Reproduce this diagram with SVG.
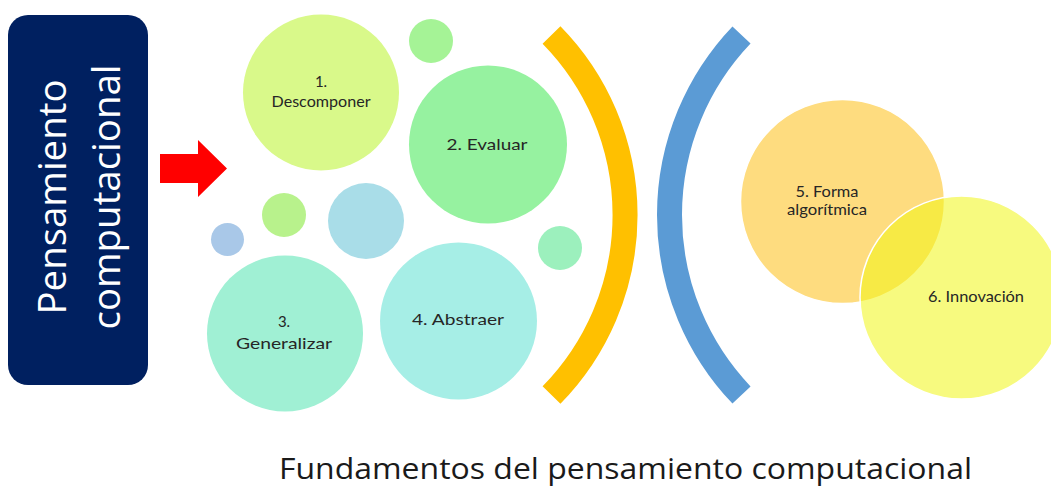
<svg xmlns="http://www.w3.org/2000/svg" width="1051" height="486" viewBox="0 0 1051 486">
<style>
.lbl{font-family:Lato,"Open Sans","Liberation Sans",sans-serif;fill:#262626;text-anchor:middle;font-size:15px}
.side{font-family:"Open Sans","Liberation Sans",sans-serif;fill:#ffffff;text-anchor:middle;font-size:38px}
.title{font-family:"Open Sans","Liberation Sans",sans-serif;fill:#1a1a1a;font-size:29px}
.arc{fill:none;stroke-width:25}
</style>
<rect width="1051" height="486" fill="#ffffff"/>
<g id="box">
<rect x="8" y="15" width="140" height="370" rx="20" ry="20" fill="#002060"/>
<text class="side" transform="translate(66,197) rotate(-90)" textLength="235" lengthAdjust="spacingAndGlyphs">Pensamiento</text>
<text class="side" transform="translate(120,197) rotate(-90)" textLength="265" lengthAdjust="spacingAndGlyphs">computacional</text>
</g>
<g id="connectors">
<polygon points="160,154 198,154 198,140 227,168.5 198,197 198,183 160,183" fill="#ff0000"/>
</g>
<g id="bubbles">
<circle cx="431" cy="41" r="22" fill="#a5f396"/>
<circle cx="284" cy="215" r="22" fill="#b8f28c"/>
<circle cx="366" cy="221" r="38" fill="#a9dde8"/>
<circle cx="227.5" cy="239.5" r="16.5" fill="#a9c8e8"/>
<circle cx="560" cy="248" r="22" fill="#9cf0bd"/>
</g>
<g id="n1">
<circle cx="321" cy="92.5" r="78" fill="#d9f98a"/>
<text class="lbl" x="321" y="87">1.</text>
<text class="lbl" x="321" y="107" textLength="99" lengthAdjust="spacingAndGlyphs">Descomponer</text>
</g>
<g id="n2">
<circle cx="488" cy="144.5" r="79" fill="#96f2a0"/>
<text class="lbl" x="487" y="150" font-size="17" textLength="81" lengthAdjust="spacingAndGlyphs">2. Evaluar</text>
</g>
<g id="n3">
<circle cx="285" cy="333.5" r="78" fill="#a0f0d4"/>
<text class="lbl" x="284" y="327" font-size="17">3.</text>
<text class="lbl" x="284" y="349" font-size="17" textLength="96" lengthAdjust="spacingAndGlyphs">Generalizar</text>
</g>
<g id="n4">
<circle cx="458.5" cy="321" r="78.5" fill="#a6eee6"/>
<text class="lbl" x="458" y="325" font-size="17" textLength="92" lengthAdjust="spacingAndGlyphs">4. Abstraer</text>
</g>
<g id="arcs">
<path class="arc" stroke="#ffc000" d="M551.5,35 A257,257 0 0 1 551.5,395"/>
<path class="arc" stroke="#5b9bd5" d="M741.5,35 A261,261 0 0 0 741.5,395"/>
</g>
<g id="n5">
<circle cx="842.5" cy="201.5" r="102" fill="#fedc7f" stroke="#ffffff" stroke-width="1.5"/>
<text class="lbl" x="827" y="197" font-size="14" textLength="63" lengthAdjust="spacingAndGlyphs">5. Forma</text>
<text class="lbl" x="827" y="215" font-size="14" textLength="80" lengthAdjust="spacingAndGlyphs">algorítmica</text>
</g>
<g id="n6">
<circle cx="961.5" cy="297.5" r="101.5" fill="#f0f616" fill-opacity="0.55" stroke="#ffffff" stroke-width="1.5"/>
<text class="lbl" x="976" y="302" font-size="14" textLength="96" lengthAdjust="spacingAndGlyphs">6. Innovación</text>
</g>
<text class="title" x="279" y="479" textLength="693" lengthAdjust="spacingAndGlyphs">Fundamentos del pensamiento computacional</text>
</svg>
